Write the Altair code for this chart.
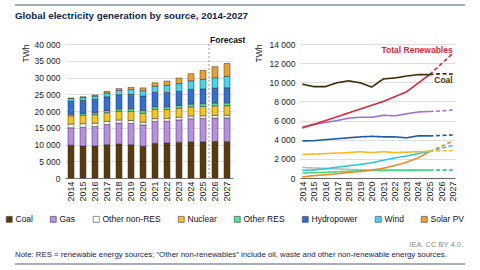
import altair as alt
import pandas as pd

years = list(range(2014, 2028))
sources = ["Coal", "Gas", "Other non-RES", "Nuclear", "Other RES", "Hydropower", "Wind", "Solar PV"]
coal = [9800, 9550, 9550, 9950, 10150, 9950, 9500, 10350, 10450, 10650, 10800, 10800, 10900, 10850]
gas = [5200, 5600, 5800, 6000, 6250, 6350, 6350, 6550, 6500, 6700, 6900, 6950, 7000, 7100]
other_nonres = [1100, 1050, 1000, 950, 900, 860, 830, 820, 830, 800, 800, 800, 790, 780]
nuclear = [2450, 2500, 2550, 2600, 2650, 2750, 2650, 2750, 2650, 2700, 2750, 2800, 2850, 2850]
other_res = [520, 560, 600, 650, 700, 760, 790, 800, 810, 820, 830, 840, 850, 850]
hydro = [3870, 3900, 4000, 4100, 4200, 4300, 4350, 4300, 4300, 4200, 4400, 4400, 4450, 4500]
wind = [800, 850, 950, 1130, 1270, 1420, 1590, 1850, 2100, 2300, 2550, 2800, 3100, 3400]
solar = [120, 250, 330, 450, 570, 680, 830, 1020, 1300, 1650, 2100, 2750, 3300, 3850]
total_res = [5300, 5600, 6000, 6400, 6800, 7200, 7600, 8000, 8500, 9000, 9900, 10800, 11900, 13000]

bar_colors = ["#5c3b0b", "#b88ee8", "#ffffff", "#f5c518", "#4ee39a", "#2f6fd6", "#3fd8ee", "#eba132"]
line_names = ["Other non-RES", "Other RES", "Solar PV", "Wind", "Nuclear", "Hydropower", "Gas", "Total Renewables", "Coal"]
line_colors = ["#b8b8b8", "#3fdc88", "#f08a2a", "#30c6d8", "#f7b924", "#1f5ba8", "#a070d8", "#d6293e", "#3d2a0a"]

series = {"Coal": coal, "Gas": gas, "Other non-RES": other_nonres, "Nuclear": nuclear,
          "Other RES": other_res, "Hydropower": hydro, "Wind": wind, "Solar PV": solar,
          "Total Renewables": total_res}

FONT = "Liberation Sans"

bar_rows = []
for i, s in enumerate(sources):
    for y, v in zip(years, series[s]):
        bar_rows.append({"year": y, "source": s, "value": v, "ord": i})
bar_df = pd.DataFrame(bar_rows)

line_rows = []
for name, col in zip(line_names, line_colors):
    for y, v in zip(years, series[name]):
        if y <= 2025:
            line_rows.append({"year": y, "value": v, "seg": "hist", "key": name + "h", "color": col, "name": name})
        if y >= 2025:
            line_rows.append({"year": y, "value": v, "seg": "fc", "key": name + "f", "color": col, "name": name})
line_df = pd.DataFrame(line_rows)

fmt = "replace(format(datum.value, ','), ',', ' ')"

xl = alt.X("year:O", scale=alt.Scale(paddingInner=0.5, paddingOuter=0.25),
           axis=alt.Axis(title=None, labelAngle=270, labelFontSize=9, labelColor="#222",
                         labelFont=FONT, ticks=False, domain=True, domainColor="#777",
                         labelPadding=3, labelOverlap=False))
yl = alt.Y("value:Q", stack="zero", scale=alt.Scale(domain=[0, 40000], nice=False),
           axis=alt.Axis(values=list(range(0, 40001, 5000)), labelExpr=fmt, title="TWh",
                         titleAngle=270, titleX=-40, titleY=0, titleAlign="right",
                         titleBaseline="middle", titleFontSize=8.5, titleFontWeight="normal",
                         titleFont=FONT, titleColor="#222", labelOverlap=False,
                         labelFontSize=8.5, labelFont=FONT, labelColor="#222",
                         ticks=False, domain=False, gridColor="#dedede", labelPadding=5))

bars = alt.Chart(bar_df).mark_bar(stroke="#333333", strokeWidth=0.5).encode(
    x=xl, y=yl,
    color=alt.Color("source:N", scale=alt.Scale(domain=sources, range=bar_colors),
                    legend=alt.Legend(orient="none", legendX=-60, legendY=171, direction="horizontal",
                                      title=None, symbolType="square", symbolSize=36,
                                      symbolStrokeColor="#444", symbolStrokeWidth=0.6,
                                      labelFontSize=8.5, labelFont=FONT, labelColor="#111",
                                      columnPadding=16, labelOffset=2)),
    order=alt.Order("ord:Q"),
)

fc_rule = alt.Chart(pd.DataFrame({"year": [2026]})).mark_rule(
    color="#999", strokeDash=[2, 2], strokeWidth=1, xOffset=-3
).encode(x=alt.X("year:O", bandPosition=0), y=alt.value(0), y2=alt.value(134))

fc_text = alt.Chart(pd.DataFrame({"year": [2026], "t": ["Forecast"]})).mark_text(
    align="left", baseline="alphabetic", fontWeight="bold", fontSize=8.5, font=FONT,
    color="#111", dx=-2, dy=-1
).encode(x=alt.X("year:O", bandPosition=0), y=alt.value(0), text="t:N")

rule_top = alt.Chart(pd.DataFrame({"k": ["top"]})).mark_rule(
    color="#8595a8", strokeWidth=1.5
).encode(x=alt.value(-50), x2=alt.value(400), y=alt.value(-39))
rule_bottom = alt.Chart(pd.DataFrame({"k": ["bottom"]})).mark_rule(
    color="#8595a8", strokeWidth=1.5
).encode(x=alt.value(-50), x2=alt.value(400), y=alt.value(220))

title_txt = alt.Chart(pd.DataFrame({"t": ["Global electricity generation by source, 2014-2027"]})).mark_text(
    align="left", baseline="alphabetic", fontWeight="bold", fontSize=9.8, font=FONT, color="#14264a"
).encode(x=alt.value(-50), y=alt.value(-25), text="t:N")

note_txt = alt.Chart(pd.DataFrame({"t": ["Note: RES = renewable energy sources; \u201cOther non-renewables\u201d include oil, waste and other non-renewable energy sources."]})).mark_text(
    align="left", baseline="alphabetic", fontSize=7.8, font=FONT, color="#14264a"
).encode(x=alt.value(-50), y=alt.value(213), text="t:N")

src_txt = alt.Chart(pd.DataFrame({"t": ["IEA. CC BY 4.0."]})).mark_text(
    align="right", baseline="alphabetic", fontSize=7.5, font=FONT, color="#8a8a8a"
).encode(x=alt.value(398), y=alt.value(203), text="t:N")

left = alt.layer(bars, fc_rule, fc_text, rule_top, rule_bottom, title_txt, note_txt, src_txt).properties(width=168, height=134)

xr = alt.X("year:O", scale=alt.Scale(type="point", padding=0.2),
           axis=alt.Axis(title=None, labelAngle=270, labelFontSize=9, labelColor="#222",
                         labelFont=FONT, ticks=False, domain=True, domainColor="#666",
                         labelPadding=3, labelOverlap=False))
yr = alt.Y("value:Q", scale=alt.Scale(domain=[0, 14000], nice=False),
           axis=alt.Axis(values=list(range(0, 14001, 2000)), labelExpr=fmt, title="TWh",
                         titleAngle=270, titleX=-42, titleY=0, titleAlign="right",
                         titleBaseline="middle", titleFontSize=8.5, titleFontWeight="normal",
                         titleFont=FONT, titleColor="#222", labelOverlap=False,
                         labelFontSize=8.5, labelFont=FONT, labelColor="#222",
                         ticks=False, domain=False, gridColor="#dedede", labelPadding=5))

lines = alt.Chart(line_df).mark_line(strokeWidth=1.6).encode(
    x=xr, y=yr,
    color=alt.Color("color:N", scale=None),
    strokeDash=alt.StrokeDash("seg:N", scale=alt.Scale(domain=["hist", "fc"], range=[[1, 0], [4, 2.5]]), legend=None),
    detail="key:N",
)

lbl_df = pd.DataFrame({"year": [2027, 2027], "value": [13050, 9900],
                       "t": ["Total Renewables", "Coal"], "c": ["#d6293e", "#4a3410"]})
labels = alt.Chart(lbl_df).mark_text(
    align="right", baseline="alphabetic", fontWeight="bold", fontSize=8.5, font=FONT
).encode(x=xr, y=yr, text="t:N", color=alt.Color("c:N", scale=None))

right = alt.layer(lines, labels).properties(width=155, height=134)

chart = alt.hconcat(left, right, spacing=67, bounds="flush").properties(
    padding={"left": 5, "top": 4, "right": 0, "bottom": 0}
).configure(background="white").configure_view(stroke=None)

chart.save("out.html", embed_options={"renderer": "svg", "actions": False})
